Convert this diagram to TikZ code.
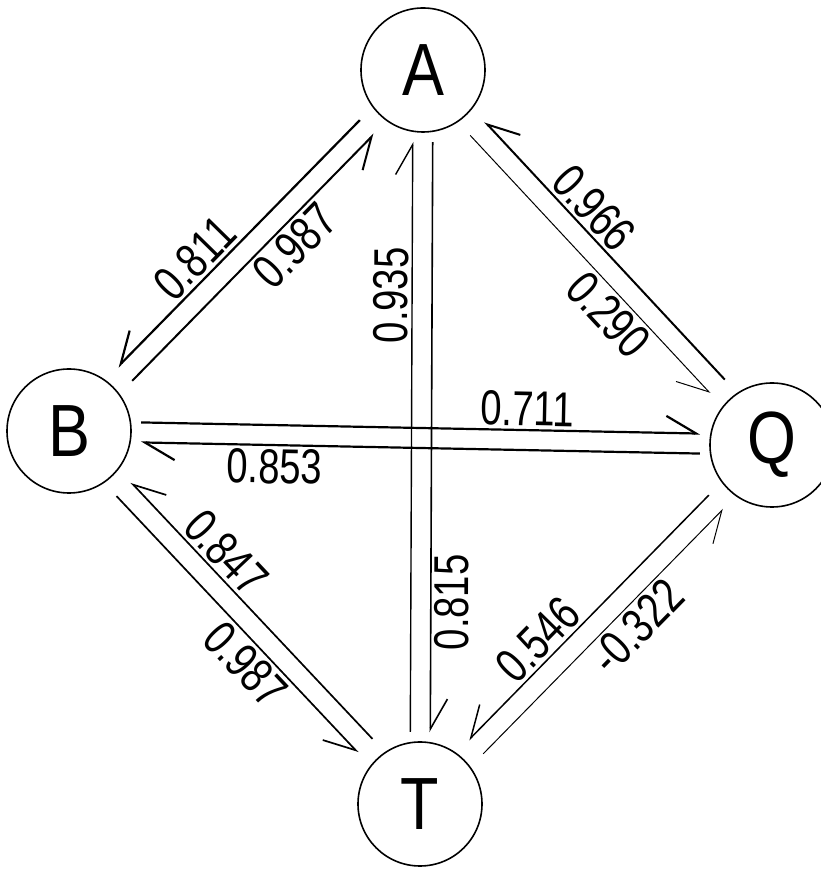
\documentclass[tikz,border=0pt]{standalone}
\usepackage{fontspec}
\setmainfont{Liberation Sans}
\usepackage{tikz}
\usetikzlibrary{arrows.meta,calc}
\tikzset{
  var/.style={circle, draw, line width=1.6pt, minimum size=124pt, inner sep=0pt,
              font=\fontsize{74}{74}\selectfont},
  coef/.style={sloped, inner sep=3pt, font=\fontsize{49}{49}\selectfont},
  diag/.style={-{Straight Barb[right,length=30pt,width=34pt]}},
  axis/.style={-{Straight Barb[left,length=30pt,width=34pt]}}
}

\begin{document}
\begin{tikzpicture}[x=1pt,y=1pt]
  \useasboundingbox (0,0) rectangle (821,870);
  \node[var] (A) at (423,800) {\scalebox{.85}[1]{A}};
  \node[var] (B) at (69,439) {\scalebox{.85}[1]{B}};
  \node[var] (Q) at (772,425) {\scalebox{.85}[1]{Q}};
  \node[var] (T) at (420,66) {\scalebox{.85}[1]{T}};
  % slanted pairs, each line kept on the right of its direction
  \foreach \u/\v/\w/\p/\side/\val in {B/A/2.0/.61/below/0.987, A/B/2.2/.62/above/0.811,
      Q/A/2.0/.61/above/0.966, A/Q/1.0/.64/below/0.290, T/B/1.7/.67/above/0.847,
      B/T/1.7/.60/below/0.987, Q/T/1.5/.65/above/0.546, T/Q/1.0/.58/below/-0.322}
    \draw[diag, line width=\w pt] ($(\u)!80pt!(\v)!10pt!-90:(\v)$) -- ($(\v)!80pt!(\u)!10pt!-90:(\v)$)
      node[coef, pos=\p, \side] {\scalebox{.78}[1]{\val}};
  % vertical and horizontal pairs, kept on the left
  \foreach \u/\v/\w/\p/\side/\val in {T/A/1.4/.74/above/0.935, A/T/1.6/.78/below/0.815,
      B/Q/2.2/.69/above/0.711, Q/B/2.2/.76/below/0.853}
    \draw[axis, line width=\w pt] ($(\u)!72pt!(\v)!10pt!90:(\v)$) -- ($(\v)!72pt!(\u)!10pt!90:(\v)$)
      node[coef, pos=\p, \side] {\scalebox{.78}[1]{\val}};
\end{tikzpicture}
\end{document}
